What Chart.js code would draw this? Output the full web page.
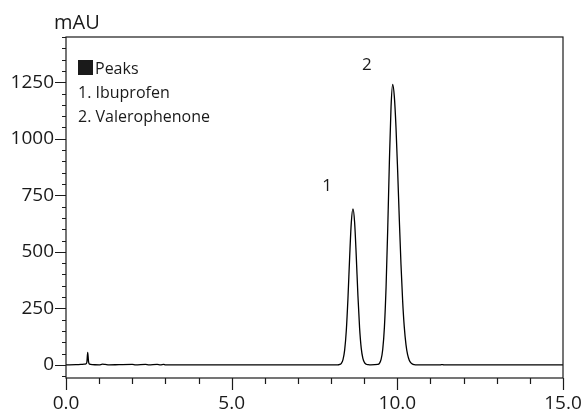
<!DOCTYPE html>
<html>
<head>
<meta charset="utf-8">
<script src="https://cdn.jsdelivr.net/npm/chart.js@4.4.1/dist/chart.umd.min.js"></script>
<style>
  html, body { margin: 0; padding: 0; background: #fff; }
  #wrap { width: 586px; height: 414px; }
</style>
</head>
<body>
<div id="wrap"><canvas id="chrom"></canvas></div>
<script>
// retention time (min) and absorbance (mAU)
const times = [
  0.00, 0.30, 0.45, 0.55, 0.60, 0.63, 0.655, 0.68, 0.71, 0.80, 1.00, 1.10, 1.18, 1.30,
  1.60, 2.00, 2.10, 2.40, 2.50, 2.75, 2.85, 2.95, 3.00,
  8.20, 8.26, 8.31, 8.36, 8.41, 8.46, 8.51, 8.56, 8.61, 8.66, 8.71, 8.76, 8.81, 8.86,
  8.91, 8.96, 9.01, 9.06, 9.12, 9.20,
  9.41, 9.46, 9.51, 9.56, 9.61, 9.66, 9.71, 9.76, 9.81, 9.86, 9.91, 9.96, 10.01, 10.06,
  10.11, 10.16, 10.21, 10.26, 10.31, 10.36, 10.41, 10.46, 10.51, 10.58,
  11.30, 11.35, 11.40, 15.00
];
const mAU = [
  0, 1, 2, 3, 4, 12, 55, 14, 3, 1, 0, 3, 2, 0,
  1, 2, 0, 2, 0, 2, 0, 2, 0,
  0, 2, 7, 23, 65, 152, 295, 473, 628, 690, 632, 482, 308, 165,
  74, 29, 10, 3, 1, 0,
  2, 7, 24, 69, 167, 343, 601, 897, 1140, 1240, 1185, 1049, 856, 643,
  445, 284, 167, 91, 45, 21, 9, 3.5, 1.3, 0,
  0, 1.5, 0, 0
];

const xLabelEvery = 5;
const yLabelEvery = 250;
const yAxisUnit = 'mAU';
const legendTitle = 'Peaks';
const peakNames = ['1. Ibuprofen', '2. Valerophenone'];
const peakNumbers = ['1', '2'];
const peakLabelTimes = [7.88, 9.08];
const peakLabelValues = [768, 1303];

const FONT = "'Open Sans', 'Noto Sans', sans-serif";

const decor = {
  id: 'decor',
  afterDraw(chart) {
    const { ctx, chartArea: a, scales: { x, y } } = chart;
    ctx.save();
    ctx.strokeStyle = '#1a1a1a';
    ctx.lineWidth = 1.2;
    ctx.strokeRect(a.left, a.top, a.right - a.left, a.bottom - a.top);

    ctx.beginPath();
    x.ticks.forEach(t => {
      const px = Math.round(x.getPixelForValue(t.value)) + 0.5;
      const len = t.value % xLabelEvery === 0 ? 12 : 6;
      ctx.moveTo(px, a.bottom);
      ctx.lineTo(px, a.bottom + len);
    });
    y.ticks.forEach(t => {
      if (t.value % 50 !== 0) return;
      const py = Math.round(y.getPixelForValue(t.value)) + 0.5;
      const len = t.value % yLabelEvery === 0 ? 11 : 4;
      ctx.moveTo(a.left, py);
      ctx.lineTo(a.left - len, py);
    });
    ctx.stroke();

    ctx.fillStyle = '#1a1a1a';
    ctx.textBaseline = 'alphabetic';
    ctx.textAlign = 'left';
    ctx.font = '20px ' + FONT;
    ctx.fillText(yAxisUnit, a.left - 12, 29);

    // legend box
    ctx.font = '16px ' + FONT;
    ctx.fillRect(a.left + 12, a.top + 23, 15, 15);
    ctx.fillText(legendTitle, a.left + 29, a.top + 37);
    peakNames.forEach((n, i) => {
      ctx.fillText(n, a.left + 12, a.top + 61 + i * 23.5);
    });

    // peak numbers
    ctx.font = '17px ' + FONT;
    ctx.textAlign = 'center';
    peakNumbers.forEach((n, i) => {
      ctx.fillText(n, x.getPixelForValue(peakLabelTimes[i]), y.getPixelForValue(peakLabelValues[i]));
    });
    ctx.restore();
  }
};

new Chart(document.getElementById('chrom'), {
  type: 'line',
  data: {
    labels: times,
    datasets: [{
      data: times.map((t, i) => ({ x: t, y: mAU[i] })),
      borderColor: '#000',
      borderWidth: 1.3,
      pointRadius: 0,
      cubicInterpolationMode: 'monotone',
      fill: false
    }]
  },
  options: {
    responsive: true,
    maintainAspectRatio: false,
    animation: false,
    events: [],
    layout: { padding: { top: 37, right: 23, left: 0, bottom: 0 } },
    plugins: { legend: { display: false }, tooltip: { enabled: false } },
    scales: {
      x: {
        type: 'linear',
        min: 0,
        max: 15,
        afterFit: s => { s.height = 36; s.paddingLeft = 0; s.paddingRight = 0; },
        border: { display: false },
        grid: { display: false, drawTicks: false },
        ticks: {
          stepSize: 1,
          autoSkip: false,
          maxRotation: 0,
          padding: 14,
          color: '#1a1a1a',
          font: { family: FONT, size: 19 },
          callback: v => (v % xLabelEvery === 0 ? v.toFixed(1) : '')
        }
      },
      y: {
        type: 'linear',
        min: -58,
        max: 1450,
        afterFit: s => { s.width = 66; s.paddingTop = 0; s.paddingBottom = 0; },
        border: { display: false },
        grid: { display: false, drawTicks: false },
        ticks: {
          stepSize: 50,
          includeBounds: false,
          autoSkip: false,
          padding: 12,
          color: '#1a1a1a',
          font: { family: FONT, size: 19 },
          callback: v => (v % yLabelEvery === 0 ? String(v) : '')
        }
      }
    }
  },
  plugins: [decor]
});
</script>
</body>
</html>
